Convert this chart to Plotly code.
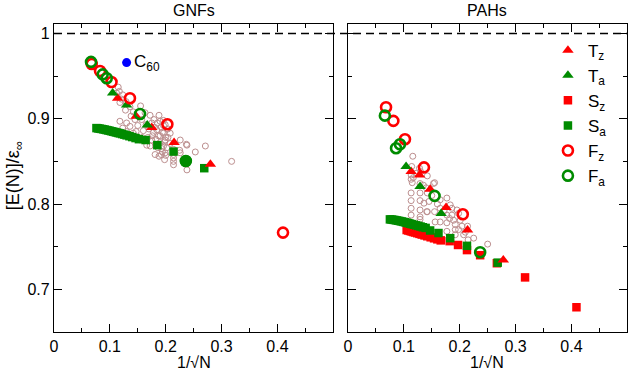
import plotly.graph_objects as go

# ---------------- data: GNFs (left panel) ----------------
gnf_c60_x = [0.130]
gnf_c60_y = [0.9658]

gnf_Fz_x = [0.0675, 0.0824, 0.103, 0.136, 0.203, 0.410]
gnf_Fz_y = [0.9642, 0.956, 0.943, 0.924, 0.8935, 0.7665]
gnf_Fa_x = [0.0663, 0.0872, 0.0944, 0.154, 0.236]
gnf_Fa_y = [0.9666, 0.952, 0.9475, 0.9056, 0.8505]
gnf_dot_x = [0.236]
gnf_dot_y = [0.8505]

gnf_Tz_x = [0.114, 0.147, 0.175, 0.215, 0.280]
gnf_Tz_y = [0.924, 0.903, 0.8896, 0.872, 0.8467]
gnf_Ta_x = [0.105, 0.130, 0.167]
gnf_Ta_y = [0.930, 0.916, 0.8927]

gnf_Sa_x = [0.076, 0.079, 0.082, 0.085, 0.088, 0.091, 0.094, 0.097, 0.100, 0.103,
            0.106, 0.109, 0.112, 0.115, 0.118, 0.122, 0.126, 0.130, 0.135, 0.140,
            0.146, 0.152, 0.164, 0.185, 0.214, 0.269]
gnf_Sa_y = [0.889, 0.8887, 0.8883, 0.888, 0.8876, 0.8872, 0.8867, 0.8863, 0.8858, 0.8853,
            0.8848, 0.8843, 0.8838, 0.8833, 0.8828, 0.882, 0.8813, 0.8805, 0.8795, 0.8785,
            0.8773, 0.876, 0.875, 0.869, 0.8615, 0.842]

gnf_cloud_x = [0.115, 0.117, 0.123, 0.121, 0.118, 0.129, 0.136, 0.155, 0.142, 0.163,
               0.172, 0.118, 0.130, 0.136, 0.123, 0.145, 0.157, 0.179, 0.190, 0.199,
               0.184, 0.196, 0.208, 0.199, 0.208, 0.193, 0.199, 0.214, 0.226, 0.238,
               0.253, 0.271, 0.225, 0.181, 0.166, 0.154, 0.175, 0.142, 0.130, 0.238,
               0.214, 0.214, 0.226, 0.318, 0.237, 0.214, 0.214,
               0.175, 0.180, 0.185, 0.178, 0.187, 0.192, 0.182, 0.190, 0.196, 0.186,
               0.192, 0.198, 0.188, 0.182, 0.176, 0.170, 0.165, 0.160, 0.168, 0.172,
               0.200, 0.204, 0.196, 0.188, 0.150, 0.158, 0.147, 0.138, 0.128, 0.112,
               0.194, 0.198, 0.202, 0.194, 0.200, 0.190, 0.204, 0.196]
gnf_cloud_y = [0.937, 0.932, 0.928, 0.923, 0.919, 0.920, 0.914, 0.915, 0.908, 0.907,
               0.904, 0.897, 0.895, 0.891, 0.889, 0.899, 0.899, 0.899, 0.897, 0.893,
               0.887, 0.883, 0.883, 0.875, 0.871, 0.865, 0.860, 0.854, 0.875, 0.869,
               0.861, 0.868, 0.863, 0.858, 0.869, 0.875, 0.875, 0.883, 0.885, 0.840,
               0.850, 0.858, 0.860, 0.850, 0.870, 0.846, 0.864,
               0.895, 0.890, 0.895, 0.884, 0.880, 0.890, 0.876, 0.872, 0.868, 0.866,
               0.858, 0.852, 0.856, 0.870, 0.880, 0.888, 0.893, 0.886, 0.878, 0.868,
               0.878, 0.888, 0.898, 0.904, 0.892, 0.878, 0.885, 0.903, 0.910, 0.930,
               0.884, 0.873, 0.866, 0.861, 0.857, 0.880, 0.878, 0.892]

# ---------------- data: PAHs (right panel) ----------------
pah_Fz_x = [0.0681, 0.0812, 0.102, 0.136, 0.2055]
pah_Fz_y = [0.9135, 0.8974, 0.876, 0.843, 0.788]
pah_Fa_x = [0.066, 0.086, 0.093, 0.155, 0.2366]
pah_Fa_y = [0.9036, 0.8654, 0.870, 0.8095, 0.7435]

pah_Tz_x = [0.113, 0.128, 0.147, 0.1756, 0.214, 0.278]
pah_Tz_y = [0.838, 0.834, 0.8174, 0.7958, 0.7696, 0.7345]
pah_Ta_x = [0.104, 0.129, 0.1667]
pah_Ta_y = [0.844, 0.8204, 0.789]

pah_Sz_x = [0.105, 0.108, 0.111, 0.114, 0.117, 0.120, 0.124, 0.128, 0.132, 0.137,
            0.142, 0.148, 0.154, 0.160, 0.166, 0.182, 0.197, 0.213, 0.2366, 0.2665,
            0.317, 0.409]
pah_Sz_y = [0.7695, 0.769, 0.7684, 0.7678, 0.7672, 0.7666, 0.7658, 0.765, 0.7642, 0.7632,
            0.7622, 0.761, 0.7598, 0.7586, 0.7574, 0.7565, 0.752, 0.746, 0.740, 0.7306,
            0.714, 0.679]
pah_Sa_x = [0.075, 0.078, 0.081, 0.084, 0.087, 0.090, 0.093, 0.096, 0.099, 0.102,
            0.105, 0.108, 0.111, 0.114, 0.118, 0.122, 0.126, 0.130, 0.134, 0.139,
            0.147, 0.162, 0.183, 0.213, 0.268]
pah_Sa_y = [0.782, 0.7818, 0.7815, 0.7812, 0.7808, 0.7804, 0.78, 0.7796, 0.7791, 0.7786,
            0.7781, 0.7776, 0.777, 0.7764, 0.7757, 0.775, 0.7743, 0.7736, 0.7728, 0.772,
            0.769, 0.766, 0.760, 0.751, 0.7313]

pah_cloud_x = [0.116, 0.114, 0.128, 0.113, 0.113, 0.115, 0.142, 0.129, 0.155, 0.113,
               0.129, 0.142, 0.113, 0.129, 0.136, 0.113, 0.129, 0.142, 0.113, 0.129,
               0.155, 0.165, 0.165, 0.177, 0.183, 0.156, 0.165, 0.177, 0.177, 0.177,
               0.186, 0.189, 0.192, 0.192, 0.192, 0.201, 0.204, 0.207, 0.214, 0.225,
               0.215, 0.250, 0.198, 0.186, 0.195, 0.122, 0.117, 0.140, 0.150, 0.160,
               0.172, 0.135, 0.145, 0.182, 0.198, 0.210, 0.130, 0.153, 0.129, 0.141]
pah_cloud_y = [0.856, 0.844, 0.842, 0.834, 0.829, 0.825, 0.833, 0.824, 0.825, 0.813,
               0.813, 0.813, 0.804, 0.804, 0.801, 0.795, 0.793, 0.791, 0.787, 0.785,
               0.791, 0.795, 0.805, 0.807, 0.799, 0.779, 0.779, 0.787, 0.778, 0.768,
               0.787, 0.781, 0.776, 0.770, 0.764, 0.781, 0.774, 0.764, 0.774, 0.760,
               0.758, 0.753, 0.789, 0.795, 0.793, 0.836, 0.831, 0.819, 0.810, 0.800,
               0.792, 0.822, 0.803, 0.783, 0.770, 0.767, 0.838, 0.824, 0.782, 0.791]

# ---------------- styles ----------------
RED = "#ff0000"
GREEN = "#008b00"
BROWN = "#bc8f8f"
BLUE = "#0000ff"
FONT = "Liberation Sans, Arial, Helvetica, sans-serif"

fig = go.Figure()


def add(x, y, panel, name, symbol, color, size, lw=0.0, legend=False, rank=None):
    xa, ya = ("x", "y") if panel == 1 else ("x2", "y2")
    fig.add_trace(go.Scatter(
        x=x, y=y, xaxis=xa, yaxis=ya, mode="markers", name=name,
        marker=dict(symbol=symbol, color=color, size=size,
                    line=dict(width=lw, color=color)),
        showlegend=legend, legendrank=rank if rank else 1000,
        legendgroup=name if legend else None,
        hoverinfo="skip",
    ))


# left panel
add(gnf_cloud_x, gnf_cloud_y, 1, "cloud", "circle-open", BROWN, 6, 1)
add(gnf_Sa_x, gnf_Sa_y, 1, "Sa", "square", GREEN, 8.5)
add(gnf_Tz_x, gnf_Tz_y, 1, "Tz", "triangle-up", RED, 10)
add(gnf_Ta_x, gnf_Ta_y, 1, "Ta", "triangle-up", GREEN, 10)
add(gnf_Fz_x, gnf_Fz_y, 1, "Fz", "circle-open", RED, 10, 2.6)
add(gnf_Fa_x, gnf_Fa_y, 1, "Fa", "circle-open", GREEN, 10, 2.6)
add(gnf_dot_x, gnf_dot_y, 1, "Fa filled", "circle", GREEN, 12)
add(gnf_c60_x, gnf_c60_y, 1, "C60", "circle", BLUE, 9)

# right panel
add(pah_cloud_x, pah_cloud_y, 2, "cloud2", "circle-open", BROWN, 6, 1)
add(pah_Sz_x, pah_Sz_y, 2, "S<sub>z</sub>", "square", RED, 8.5, legend=True, rank=3)
add(pah_Sa_x, pah_Sa_y, 2, "S<sub>a</sub>", "square", GREEN, 8.5, legend=True, rank=4)
add(pah_Tz_x, pah_Tz_y, 2, "T<sub>z</sub>", "triangle-up", RED, 10, legend=True, rank=1)
add(pah_Ta_x, pah_Ta_y, 2, "T<sub>a</sub>", "triangle-up", GREEN, 10, legend=True, rank=2)
add(pah_Fz_x, pah_Fz_y, 2, "F<sub>z</sub>", "circle-open", RED, 10, 2.6, legend=True, rank=5)
add(pah_Fa_x, pah_Fa_y, 2, "F<sub>a</sub>", "circle-open", GREEN, 10, 2.6, legend=True, rank=6)

axis_common = dict(
    showgrid=False, zeroline=False, showline=True, linecolor="black", linewidth=1.2,
    mirror="ticks", ticks="inside", ticklen=8, tickwidth=1, tickcolor="black",
    tickfont=dict(family=FONT, size=16, color="black"),
)
minor = dict(ticks="inside", ticklen=4, tickwidth=1, tickcolor="black", dtick=0.05)

fig.update_layout(
    width=630, height=373,
    margin=dict(l=54, r=3, t=24, b=41),
    paper_bgcolor="white", plot_bgcolor="white",
    font=dict(family=FONT, size=16, color="black"),
    xaxis=dict(domain=[0, 0.4869], range=[0, 0.4995], dtick=0.1, tick0=0,
               minor=minor, **axis_common),
    xaxis2=dict(domain=[0.5131, 1], range=[0, 0.4995], dtick=0.1, tick0=0, anchor="y2",
                minor=minor, **axis_common),
    yaxis=dict(range=[0.65, 1.011], dtick=0.1, tick0=0, minor=minor, **axis_common),
    yaxis2=dict(range=[0.65, 1.011], dtick=0.1, tick0=0, anchor="x2", matches="y",
                showticklabels=False, minor=minor, **axis_common),
    showlegend=True,
    legend=dict(x=0.862, y=0.972, xanchor="left", yanchor="top",
                bgcolor="rgba(0,0,0,0)", borderwidth=0,
                font=dict(family=FONT, size=17, color="black"),
                traceorder="grouped", tracegroupgap=0, itemwidth=30),
)

# dashed reference line at 1 spanning both panels
fig.add_shape(type="line", xref="paper", yref="y", x0=0, x1=1, y0=1, y1=1,
              line=dict(color="black", width=1.5, dash="8px,5px"))

ann = [
    dict(text="GNFs", x=0.2435, y=1, xref="paper", yref="paper",
         xanchor="center", yanchor="bottom", yshift=3, showarrow=False,
         font=dict(family=FONT, size=16)),
    dict(text="PAHs", x=0.7565, y=1, xref="paper", yref="paper",
         xanchor="center", yanchor="bottom", yshift=3, showarrow=False,
         font=dict(family=FONT, size=16)),
    dict(text="1/√N", x=0.2435, y=0, xref="paper", yref="paper",
         xanchor="center", yanchor="top", yshift=-20, showarrow=False,
         font=dict(family=FONT, size=16)),
    dict(text="1/√N", x=0.7565, y=0, xref="paper", yref="paper",
         xanchor="center", yanchor="top", yshift=-20, showarrow=False,
         font=dict(family=FONT, size=16)),
    dict(text="[E(N)]/ε<sub>∞</sub>", x=0, y=0.506, xref="paper", yref="paper",
         xanchor="center", yanchor="middle", xshift=-40, textangle=-90,
         showarrow=False, font=dict(family=FONT, size=18)),
    dict(text="C<sub>60</sub>", x=0.139, y=0.965, xref="x", yref="y",
         xanchor="left", yanchor="middle", showarrow=False,
         font=dict(family=FONT, size=17)),
]
fig.update_layout(annotations=ann)

fig.write_html(
    "out.html",
    config={"displayModeBar": False},
    post_script="document.body.style.margin='0';document.body.style.overflow='hidden';",
)
